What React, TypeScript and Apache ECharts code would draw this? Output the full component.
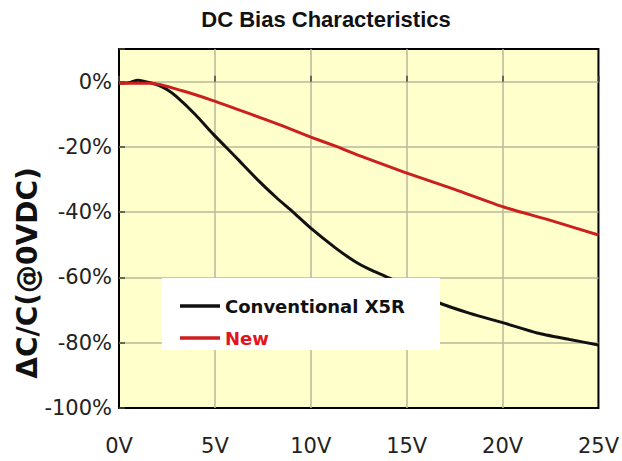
import React, { useEffect, useRef } from "react";
import * as echarts from "echarts";

const titleText = "DC Bias Characteristics";
const yAxisTitle = "ΔC/C(@0VDC)";
const seriesNames = ["Conventional X5R", "New"];

const convVolts = [0, 0.5, 1, 1.5, 2, 2.5, 3, 4, 4.9, 6.1, 7.3, 8.2, 9.06, 10, 11.3, 12.3, 13.1, 14.1, 15.3, 16.6, 18.3, 20.1, 21.8, 23.5, 25];
const convValues = [-0.5, -0.3, 0.4, -0.2, -1, -2.4, -4.6, -10.2, -16, -23.2, -30.5, -35.5, -39.9, -44.9, -51, -55.1, -57.6, -60.2, -64, -67.6, -71, -74, -77, -79, -80.7];

const newVolts = [0, 1.7, 3.3, 4.9, 6.8, 8.5, 10, 11.4, 12.5, 14.9, 17.5, 20.1, 22.5, 25];
const newValues = [-0.5, -0.5, -2.8, -5.8, -9.8, -13.5, -17, -20, -22.6, -27.8, -33, -38.5, -42.5, -47];

const yMin = -100;
const yMax = 10;
const yStep = 20;
const xMin = 0;
const xMax = 25;
const xStep = 5;

const pairs = (xs: number[], ys: number[]) => xs.map((x, i) => [x, ys[i]]);

export default function App() {
  const ref = useRef<HTMLDivElement>(null);
  useEffect(() => {
    if (!ref.current) return;
    const chart = echarts.init(ref.current, null, { renderer: "svg" });
    const tickFont = { fontFamily: "DejaVu Sans", fontSize: 21, color: "#222" };
    const split = {
      show: true,
      showMinLine: false,
      showMaxLine: false,
      lineStyle: { color: "#b8b89c", width: 1.5 },
    };
    chart.setOption({
      animation: false,
      backgroundColor: "#ffffff",
      grid: {
        left: 119,
        right: 20,
        top: 49,
        bottom: 53,
        show: true,
        backgroundColor: "#ffffcc",
        borderColor: "#000",
        borderWidth: 2,
      },
      xAxis: {
        type: "value",
        min: xMin,
        max: xMax,
        interval: xStep,
        axisLine: { show: false },
        axisTick: { show: true, inside: true, length: 6, lineStyle: { color: "#444", width: 1.5 } },
        splitLine: split,
        axisLabel: { ...tickFont, margin: 27, formatter: "{value}V" },
      },
      yAxis: {
        type: "value",
        min: yMin,
        max: yMax,
        interval: yStep,
        axisLine: { show: false },
        axisTick: { show: true, inside: true, length: 6, lineStyle: { color: "#444", width: 1.5 } },
        splitLine: split,
        axisLabel: {
          ...tickFont,
          margin: 7,
          formatter: (v: number) => (v > 0 ? "" : v + "%"),
        },
      },
      legend: {
        orient: "vertical",
        left: 175,
        top: 292,
        z: 200,
        itemWidth: 40,
        itemHeight: 18,
        itemGap: 14,
        icon: "path://M0,7.5 L40,7.5 L40,11 L0,11 Z",
        textStyle: {
          fontFamily: "DejaVu Sans",
          fontWeight: "bold",
          fontSize: 18,
          lineHeight: 18,
        },
        data: [
          { name: seriesNames[0], textStyle: { color: "#111" } },
          { name: seriesNames[1], textStyle: { color: "#e3141c" } },
        ],
      },
      graphic: [
        {
          type: "rect",
          z: 100,
          shape: { x: 162, y: 278, width: 278, height: 72 },
          style: { fill: "#ffffff" },
        },
        {
          type: "text",
          x: 326,
          y: 19,
          style: {
            text: titleText,
            fontFamily: "Liberation Sans",
            fontWeight: "bold",
            fontSize: 22,
            fill: "#111",
            textAlign: "center",
            textVerticalAlign: "middle",
          },
        },
        {
          type: "text",
          x: 27,
          y: 273,
          rotation: Math.PI / 2,
          style: {
            text: yAxisTitle,
            fontFamily: "DejaVu Sans",
            fontWeight: "bold",
            fontSize: 28,
            fill: "#111",
            textAlign: "center",
            textVerticalAlign: "middle",
          },
        },
      ],
      series: [
        {
          name: seriesNames[0],
          type: "line",
          symbol: "none",
          smooth: 0.2,
          data: pairs(convVolts, convValues),
          lineStyle: { color: "#111", width: 3 },
          itemStyle: { color: "#111" },
          z: 2,
        },
        {
          name: seriesNames[1],
          type: "line",
          symbol: "none",
          smooth: 0.2,
          data: pairs(newVolts, newValues),
          lineStyle: { color: "#cc1f1f", width: 3 },
          itemStyle: { color: "#cc1f1f" },
          z: 3,
        },
      ],
    });
    return () => chart.dispose();
  }, []);
  return (
    <div
      ref={ref}
      style={{ position: "fixed", left: 0, top: 0, width: 622, height: 461 }}
    />
  );
}
